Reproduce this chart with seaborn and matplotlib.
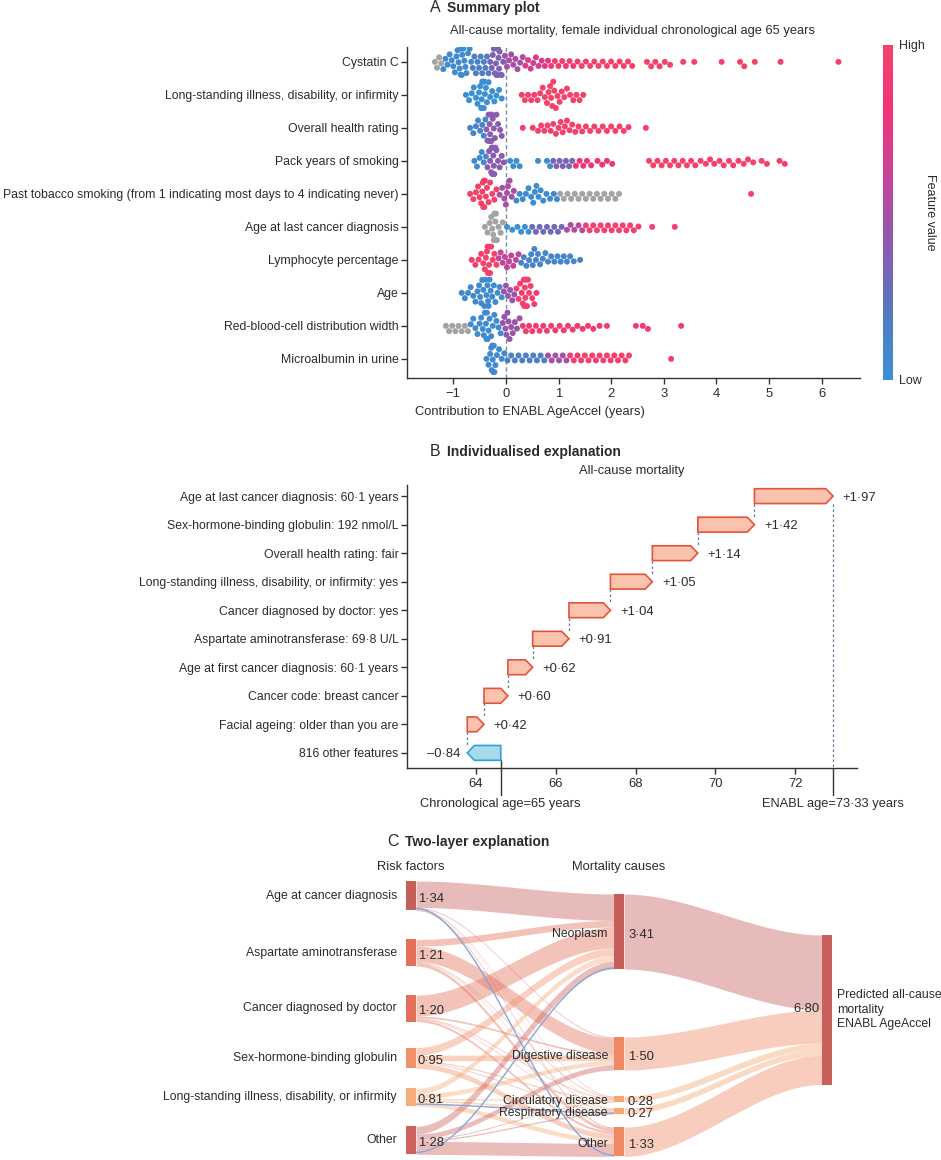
import numpy as np
import pandas as pd
import seaborn as sns
import matplotlib.pyplot as plt
import matplotlib.transforms as mtransforms
from matplotlib.colors import LinearSegmentedColormap, Normalize
from matplotlib.cm import ScalarMappable
from matplotlib.patches import Polygon, Rectangle

# ---------------- data ----------------
# A: summary plot, (feature value, [shap values]) groups per feature, None = missing (grey)
features_a = [
    'Cystatin C',
    'Long-standing illness, disability, or infirmity',
    'Overall health rating',
    'Pack years of smoking',
    'Past tobacco smoking (from 1 indicating most days to 4 indicating never)',
    'Age at last cancer diagnosis',
    'Lymphocyte percentage',
    'Age',
    'Red-blood-cell distribution width',
    'Microalbumin in urine',
]
cystatin = [
    (None, [-1.35, -1.31, -1.27, -1.23]),
    (0.05, [-1.19, -1.15, -1.11, -1.07, -1.03, -1.00, -0.97, -0.94, -0.92, -0.90, -0.88, -0.86,
            -0.85, -0.84, -0.83, -0.81, -0.79, -0.77, -0.75, -0.72, -0.69, -0.66]),
    (0.15, [-0.63, -0.60, -0.57, -0.54, -0.51, -0.48, -0.45, -0.42, -0.39, -0.36, -0.33]),
    (0.35, [-0.30, -0.27, -0.25, -0.23, -0.21, -0.19, -0.18, -0.17, -0.16, -0.15, -0.14, -0.13,
            -0.12, -0.10, -0.08, -0.05]),
    (0.5, [-0.02, 0.02, 0.06, 0.10, 0.14, 0.18, 0.22, 0.27, 0.32]),
    (0.7, [0.37, 0.42, 0.47, 0.52, 0.57, 0.62, 0.68, 0.74, 0.80]),
    (0.9, [0.86, 0.93, 1.00, 1.07, 1.14, 1.21, 1.28, 1.36, 1.44, 1.52]),
    (1.0, [1.60, 1.68, 1.76, 1.84, 1.92, 2.00, 2.08, 2.16, 2.24, 2.32, 2.40, 2.68, 2.76, 2.84,
           2.92, 3.02, 3.12, 3.37, 3.58, 4.10, 4.45, 4.53, 4.73, 5.22, 6.32]),
]
longstanding = [
    (0.0, [-0.76, -0.70, -0.65, -0.61, -0.57, -0.54, -0.51, -0.49, -0.47, -0.46, -0.45, -0.44,
           -0.43, -0.42, -0.41, -0.40, -0.38, -0.36, -0.33, -0.30, -0.26, -0.22, -0.18, -0.13, -0.08]),
    (1.0, [0.30, 0.36, 0.42, 0.48, 0.54, 0.60, 0.65, 0.70, 0.74, 0.78, 0.81, 0.84, 0.86, 0.88,
           0.90, 0.92, 0.95, 0.98, 1.02, 1.06, 1.11, 1.16, 1.22, 1.28, 1.34, 1.40, 1.47]),
]
health = [
    (0.1, [-0.68, -0.62, -0.57, -0.53, -0.49, -0.45, -0.42, -0.39]),
    (0.4, [-0.37, -0.35, -0.33, -0.32, -0.31, -0.30, -0.29, -0.28, -0.27, -0.25, -0.23, -0.21,
           -0.18, -0.15, -0.11, -0.08]),
    (1.0, [0.32, 0.51, 0.61, 0.67, 0.73, 0.79, 0.85, 0.90, 0.95, 1.00, 1.04, 1.08, 1.12, 1.16,
           1.21, 1.26, 1.32, 1.38, 1.45, 1.52, 1.60, 1.68, 1.76, 1.84, 1.92, 2.00, 2.08, 2.16,
           2.24, 2.33, 2.66]),
]
packyears = [
    (0.05, [-0.60, -0.55, -0.50, -0.46, -0.42, -0.38]),
    (0.4, [-0.35, -0.32, -0.30, -0.28, -0.27, -0.26, -0.25, -0.24, -0.23, -0.22, -0.20, -0.18,
           -0.15, -0.12, -0.08, -0.04]),
    (0.05, [0.08, 0.14, 0.20, 0.26, 0.61, 0.78, 0.84]),
    (0.35, [0.90, 0.96, 1.02, 1.08, 1.14, 1.20, 1.26]),
    (0.8, [1.33, 1.40, 1.47, 1.54, 1.62, 1.74, 1.83, 1.92, 2.02]),
    (1.0, [2.72, 2.80, 2.88, 2.96, 3.04, 3.12, 3.20, 3.28, 3.36, 3.44, 3.52, 3.60, 3.70, 3.80,
           3.88, 3.96, 4.06, 4.14, 4.24, 4.32, 4.42, 4.52, 4.60, 4.70, 4.86, 4.96, 5.20, 5.30]),
]
tobacco = [
    (1.0, [-0.68, -0.62, -0.57, -0.53, -0.50, -0.47, -0.45, -0.44, -0.43, -0.42, -0.41, -0.40,
           -0.38, -0.36, -0.33, -0.30, -0.26, -0.22, -0.18]),
    (0.5, [-0.12, -0.07, -0.03, 0.00, 0.02, 0.04, 0.07, 0.11, 0.15]),
    (0.05, [0.20, 0.26, 0.32, 0.38, 0.43, 0.48, 0.52, 0.55, 0.58, 0.62, 0.66, 0.71, 0.77, 0.84,
            0.91, 0.97]),
    (None, [1.03, 1.10, 1.17, 1.24, 1.31, 1.38, 1.45, 1.52, 1.59, 1.66, 1.73, 1.80, 1.87, 1.94,
            2.01, 2.08, 2.15]),
    (1.0, [4.66]),
]
lastcancer = [
    (None, [-0.40, -0.35, -0.31, -0.28, -0.26, -0.24, -0.23, -0.22, -0.21, -0.20, -0.19, -0.17,
            -0.14, -0.10, -0.06]),
    (0.0, [0.02, 0.12, 0.22, 0.29, 0.36, 0.43]),
    (0.3, [0.50, 0.57, 0.64, 0.71, 0.78, 0.85, 0.92, 0.99, 1.06]),
    (0.55, [1.16, 1.23, 1.30, 1.38, 1.45]),
    (0.95, [1.52, 1.59, 1.66, 1.73, 1.80, 1.87, 1.94, 2.01, 2.08, 2.15, 2.22, 2.29, 2.36, 2.43,
            2.52, 2.78, 3.21]),
]
lymphocyte = [
    (1.0, [-0.65, -0.58, -0.52, -0.47, -0.43, -0.40, -0.38, -0.36, -0.35, -0.34, -0.33, -0.32,
           -0.30, -0.28, -0.25, -0.22, -0.18]),
    (0.6, [-0.14, -0.10, -0.06, -0.02, 0.02, 0.06, 0.10, 0.14, 0.19, 0.24]),
    (0.1, [0.29, 0.34, 0.39, 0.44, 0.48, 0.51, 0.54, 0.57, 0.61, 0.65, 0.70, 0.75, 0.80, 0.86,
           0.92, 0.98, 1.04, 1.10, 1.16, 1.22, 1.29, 1.41]),
]
age = [
    (0.05, [-0.84, -0.78, -0.72, -0.67, -0.62, -0.58, -0.54, -0.51, -0.49, -0.47, -0.45, -0.43,
            -0.41, -0.39, -0.37, -0.35, -0.34, -0.33, -0.31, -0.29, -0.26, -0.23, -0.20, -0.16,
            -0.12, -0.08]),
    (0.45, [-0.04, 0.00, 0.04, 0.08, 0.12, 0.16]),
    (0.95, [0.20, 0.24, 0.27, 0.30, 0.32, 0.34, 0.35, 0.36, 0.37, 0.38, 0.40, 0.42, 0.44, 0.47,
            0.50, 0.54, 0.58]),
]
rdw = [
    (None, [-1.14, -1.08, -1.02, -0.96, -0.90, -0.84, -0.78, -0.72]),
    (0.05, [-0.67, -0.62, -0.58, -0.54, -0.50, -0.47, -0.44, -0.42, -0.40, -0.38, -0.37, -0.36,
            -0.35, -0.33, -0.31, -0.28, -0.25, -0.22, -0.18, -0.14, -0.10]),
    (0.45, [-0.06, -0.03, -0.01, 0.01, 0.03, 0.05, 0.07, 0.10, 0.13, 0.17, 0.21, 0.26]),
    (0.9, [0.32, 0.38, 0.44, 0.50, 0.57, 0.64, 0.71, 0.78, 0.86, 0.94, 1.02, 1.10, 1.18, 1.27,
           1.36, 1.46, 1.56, 1.66, 1.78, 1.92, 2.47, 2.60, 2.70, 3.33]),
]
microalbumin = [
    (0.05, [-0.37, -0.33, -0.30, -0.28, -0.27, -0.26, -0.25, -0.24, -0.23, -0.22, -0.20, -0.17,
            -0.13, -0.08, -0.03]),
    (0.15, [0.03, 0.10, 0.17, 0.24, 0.31, 0.38, 0.45, 0.52, 0.59, 0.66, 0.73]),
    (0.5, [0.80, 0.87, 0.94, 1.01, 1.08, 1.15]),
    (0.95, [1.22, 1.29, 1.36, 1.43, 1.50, 1.57, 1.64, 1.71, 1.78, 1.85, 1.92, 1.99, 2.06, 2.13,
            2.20, 2.27, 2.34, 3.14]),
]
groups_a = [cystatin, longstanding, health, packyears, tobacco, lastcancer,
            lymphocyte, age, rdw, microalbumin]

# B: individualised explanation (waterfall)
features_b = [
    'Age at last cancer diagnosis: 60·1 years',
    'Sex-hormone-binding globulin: 192 nmol/L',
    'Overall health rating: fair',
    'Long-standing illness, disability, or infirmity: yes',
    'Cancer diagnosed by doctor: yes',
    'Aspartate aminotransferase: 69·8 U/L',
    'Age at first cancer diagnosis: 60·1 years',
    'Cancer code: breast cancer',
    'Facial ageing: older than you are',
    '816 other features',
]
contrib_b = [1.97, 1.42, 1.14, 1.05, 1.04, 0.91, 0.62, 0.60, 0.42, -0.84]
base_b = 64.62
ticks_b = [64, 66, 68, 70, 72]
chrono_text = 'Chronological age=65 years'
enabl_text = 'ENABL age=73·33 years'

# C: two-layer explanation (sankey)
risk_names = ['Age at cancer diagnosis', 'Aspartate aminotransferase', 'Cancer diagnosed by doctor',
              'Sex-hormone-binding globulin', 'Long-standing illness, disability, or infirmity', 'Other']
risk_vals = [1.34, 1.21, 1.20, 0.95, 0.81, 1.28]
cause_names = ['Neoplasm', 'Digestive disease', 'Circulatory disease', 'Respiratory disease', 'Other']
cause_vals = [3.41, 1.50, 0.28, 0.27, 1.33]
total_val = 6.80
total_name = 'Predicted all-cause\nmortality\nENABL AgeAccel'
flows = [
    [1.20, 0.04, 0.03, 0.02, 0.05],
    [0.30, 0.70, 0.04, 0.03, 0.14],
    [0.95, 0.08, 0.04, 0.03, 0.10],
    [0.35, 0.25, 0.06, 0.05, 0.24],
    [0.25, 0.20, 0.07, 0.08, 0.21],
    [0.36, 0.23, 0.04, 0.06, 0.59],
]
neg_flows = [(0, 4), (5, 0), (4, 3)]


def fmt(v, sign=False):
    s = f'{v:+.2f}' if sign else f'{v:.2f}'
    return s.replace('.', '·').replace('-', '–')


# ---------------- style ----------------
sns.set_theme(style='white')
FONT = ['Liberation Sans', 'DejaVu Sans']
plt.rcParams['font.family'] = FONT
plt.rcParams['font.size'] = 8.8
TXT = '#2b2b2b'
LAB = 8.8
NUM = 9.4

W, H = 941, 1160
fig = plt.figure(figsize=(W / 100, H / 100), dpi=100)


def box(l, t, r, b):
    return [l / W, 1 - b / H, (r - l) / W, (b - t) / H]


def ftext(x, y, s, **kw):
    fig.text(x / W, 1 - y / H, s, color=TXT, **kw)


# ---------------- A ----------------
rows = []
for feat, groups in zip(features_a, groups_a):
    for val, xs in groups:
        for x in xs:
            rows.append((feat, x, -1.0 if val is None else val))
df_a = pd.DataFrame(rows, columns=['feature', 'shap', 'value'])

cmap = LinearSegmentedColormap.from_list(
    'shap', ['#3a90d4', '#5579c0', '#8a5bb0', '#c4449a', '#ef3479', '#f4416a'])
cmap.set_under('#a3a3a3')

ax_a = fig.add_axes(box(407, 47, 860, 378))
sns.swarmplot(data=df_a, x='shap', y='feature', hue='value', palette=cmap, hue_norm=(0, 1),
              order=features_a, size=4.3, legend=False, ax=ax_a, zorder=3)
ax_a.axvline(0, color='#7b8ea6', ls=(0, (3, 2)), lw=1, zorder=1)
ax_a.set_xlim(-1.88, 6.73)
ax_a.set_ylim(9.58, -0.45)
ax_a.set_xticks(range(-1, 7))
ax_a.set_ylabel('')
ax_a.set_xlabel('Contribution to ENABL AgeAccel (years)', fontsize=9.3, color=TXT)
ax_a.xaxis.set_label_coords((530 - 407) / 453, -0.085)
for sp in ['top', 'right']:
    ax_a.spines[sp].set_visible(False)
for sp in ['left', 'bottom']:
    ax_a.spines[sp].set_color('#333333')
    ax_a.spines[sp].set_linewidth(1)
ax_a.tick_params(bottom=True, left=True, length=4, width=1, color='#333333',
                 labelsize=LAB, labelcolor=TXT, pad=2)
ax_a.tick_params(axis='x', labelsize=NUM, pad=3)

cax = fig.add_axes(box(883, 45, 893, 380))
cb = fig.colorbar(ScalarMappable(norm=Normalize(0, 1), cmap=cmap), cax=cax)
cb.outline.set_visible(False)
cb.set_ticks([0, 1])
cb.set_ticklabels(['Low', 'High'])
cb.ax.tick_params(length=0, labelsize=9, labelcolor=TXT, pad=4)
cb.set_label('Feature value', rotation=270, fontsize=9, color=TXT, labelpad=8)

ftext(430, 8, 'A', fontsize=11.5, va='center')
ftext(447, 8, 'Summary plot', fontsize=10, fontweight='bold', va='center')
ftext(633, 31, 'All-cause mortality, female individual chronological age 65 years',
      fontsize=9.3, va='center', ha='center')

# ---------------- B ----------------
ax_b = fig.add_axes(box(407, 485, 857, 768))
n = len(contrib_b)
starts = [0.0] * n
ends = [0.0] * n
pos = base_b
for i in reversed(range(n)):
    starts[i] = pos
    ends[i] = pos + contrib_b[i]
    pos = ends[i]

h = 0.52
for i, v in enumerate(contrib_b):
    s, e = starts[i], ends[i]
    d = 1 if v > 0 else -1
    hl = min(0.18, abs(v) * 0.5)
    pts = [(s, i - h / 2), (e - d * hl, i - h / 2), (e, i), (e - d * hl, i + h / 2), (s, i + h / 2)]
    if v > 0:
        fc, ec = '#f9c3ae', '#e5533c'
        ax_b.text(e + 0.24, i + 0.05, fmt(v, sign=True), ha='left', va='center', fontsize=NUM, color=TXT)
    else:
        fc, ec = '#a9d9ec', '#2aa5d2'
        ax_b.text(e - 0.18, i + 0.05, fmt(v, sign=True), ha='right', va='center', fontsize=NUM, color=TXT)
    ax_b.add_patch(Polygon(pts, closed=True, facecolor=fc, edgecolor=ec, lw=1.2, zorder=3))

line_c = '#5f7d99'
for i in range(n - 1):
    ax_b.plot([starts[i], starts[i]], [i + h / 2, i + 1 - h / 2], color=line_c, lw=0.9,
              ls=(0, (2, 2)), zorder=2)

ylo = 9.53
ax_b.set_xlim(62.27, 73.55)
ax_b.set_ylim(ylo, -0.39)
ax_b.plot([ends[0], ends[0]], [h / 2, ylo], color=line_c, lw=0.9, ls=(0, (2, 2)), zorder=2)
ax_b.plot([base_b, base_b], [n - 1 + h / 2, ylo], color='#333333', lw=1, zorder=2)
blend = mtransforms.blended_transform_factory(ax_b.transData, ax_b.transAxes)
below = -27 / 283
for xv, txt in [(base_b, chrono_text), (ends[0], enabl_text)]:
    ax_b.plot([xv, xv], [0, below], transform=blend, clip_on=False, color='#333333', lw=1)
    ax_b.text(xv, -36 / 283, txt, transform=blend, ha='center', va='center', fontsize=9.3, color=TXT)

ax_b.set_yticks(range(n))
ax_b.set_yticklabels(features_b)
ax_b.set_xticks(ticks_b)
for sp in ['top', 'right']:
    ax_b.spines[sp].set_visible(False)
for sp in ['left', 'bottom']:
    ax_b.spines[sp].set_color('#333333')
    ax_b.spines[sp].set_linewidth(1)
ax_b.tick_params(bottom=True, left=True, length=4, width=1, color='#333333',
                 labelsize=LAB, labelcolor=TXT, pad=2)
ax_b.tick_params(axis='x', labelsize=NUM, pad=3)

ftext(430, 452, 'B', fontsize=11.5, va='center')
ftext(447, 452, 'Individualised explanation', fontsize=10, fontweight='bold', va='center')
ftext(632, 471, 'All-cause mortality', fontsize=9.3, va='center', ha='center')

# ---------------- C ----------------
ax_c = fig.add_axes(box(0, 830, W, H))
ax_c.set_xlim(0, W)
ax_c.set_ylim(H, 830)
ax_c.axis('off')

ppu = 22.0
node_w = 10
x_left, x_mid, x_right = 406, 614, 822
left_top0, left_gaps = 881, [29, 29, 26, 20, 20]
mid_top0, mid_gaps = 894, [68, 26, 6, 13]
right_top = 935
risk_colors = ['#c65f59', '#e4705c', '#e4705c', '#f1926b', '#f6ad7a', '#cf625c']
cause_colors = ['#c65f59', '#f08963', '#f6a870', '#f6a870', '#f08963']
total_color = '#c8615b'
alpha = 0.42


def stack(top0, vals, gaps):
    tops = []
    t = top0
    for k, v in enumerate(vals):
        tops.append(t)
        t += v * ppu + (gaps[k] if k < len(gaps) else 0)
    return tops


left_tops = stack(left_top0, risk_vals, left_gaps)
mid_tops = stack(mid_top0, cause_vals, mid_gaps)


def curve(x0, x1, y0, y1, num=60):
    xs = np.linspace(x0, x1, num)
    t = (xs - x0) / (x1 - x0)
    sm = t * t * (3 - 2 * t)
    return xs, y0 + (y1 - y0) * sm


def band(x0, x1, a0, b0, a1, b1, color):
    xs, top = curve(x0, x1, a0, a1)
    _, bot = curve(x0, x1, b0, b1)
    ax_c.fill_between(xs, top, bot, color=color, alpha=alpha, lw=0, zorder=1)


src_off = list(left_tops)
tgt_off = list(mid_tops)
for i in range(len(risk_vals)):
    for j in range(len(cause_vals)):
        hp = flows[i][j] * ppu
        band(x_left + node_w, x_mid, src_off[i], src_off[i] + hp, tgt_off[j], tgt_off[j] + hp,
             risk_colors[i])
        src_off[i] += hp
        tgt_off[j] += hp

r_off = right_top
for j, v in enumerate(cause_vals):
    hp = v * ppu
    band(x_mid + node_w, x_right, mid_tops[j], mid_tops[j] + hp, r_off, r_off + hp, cause_colors[j])
    r_off += hp

for i, j in neg_flows:
    xs, ys = curve(x_left + node_w, x_mid, left_tops[i] + risk_vals[i] * ppu - 2,
                   mid_tops[j] + cause_vals[j] * ppu - 1)
    ax_c.plot(xs, ys, color='#8aa6d6', lw=1, zorder=2)

for i, v in enumerate(risk_vals):
    t = left_tops[i]
    hp = v * ppu
    ax_c.add_patch(Rectangle((x_left, t), node_w, hp, color=risk_colors[i], lw=0, zorder=3))
    ax_c.text(x_left - 9, t + hp / 2, risk_names[i], ha='right', va='center', fontsize=LAB, color=TXT)
    ax_c.text(x_left + node_w + 2, t + hp / 2 + 3, fmt(v), ha='left', va='center', fontsize=NUM,
              color=TXT, zorder=4)

for j, v in enumerate(cause_vals):
    t = mid_tops[j]
    hp = v * ppu
    ax_c.add_patch(Rectangle((x_mid, t), node_w, hp, color=cause_colors[j], lw=0, zorder=3))
    ax_c.text(x_mid - 6, t + hp / 2 + 2, cause_names[j], ha='right', va='center', fontsize=LAB,
              color=TXT, zorder=4)
    ax_c.text(x_mid + node_w + 4, t + hp / 2 + 3, fmt(v), ha='left', va='center', fontsize=NUM,
              color=TXT, zorder=4)

hp = total_val * ppu
ax_c.add_patch(Rectangle((x_right, right_top), node_w, hp, color=total_color, lw=0, zorder=3))
ax_c.text(x_right - 2, right_top + hp / 2 - 1, fmt(total_val), ha='right', va='center',
          fontsize=NUM, color=TXT, zorder=4)
ax_c.text(x_right + node_w + 5, right_top + hp / 2, total_name, ha='left', va='center',
          fontsize=8.8, color=TXT, linespacing=1.3, zorder=4)

ax_c.text(x_left + node_w / 2, 867, 'Risk factors', ha='center', va='center', fontsize=9.3, color=TXT)
ax_c.text(x_mid + node_w / 2, 867, 'Mortality causes', ha='center', va='center', fontsize=9.3, color=TXT)
ftext(387, 842, 'C', fontsize=11.5, va='center')
ftext(405, 842, 'Two-layer explanation', fontsize=10, fontweight='bold', va='center')

fig.savefig('out.png', dpi=100)
